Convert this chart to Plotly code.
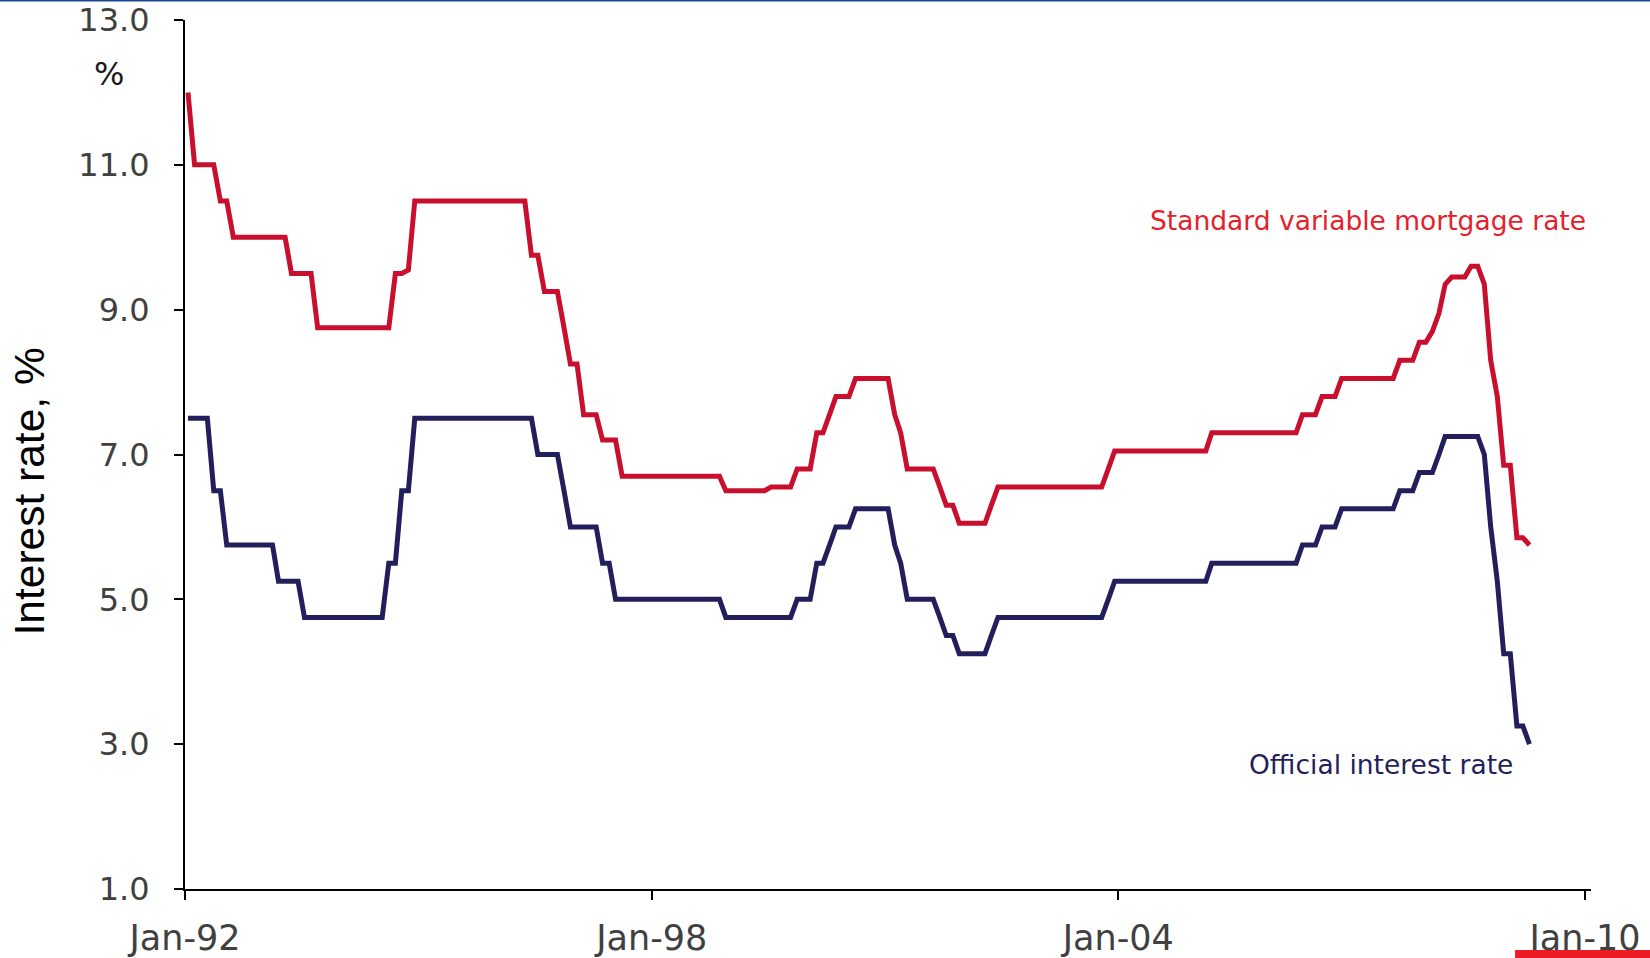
import plotly.graph_objects as go

years = list(range(1992, 2010))
months_in_last_year = 4

mortgage_rate = [
    # 1992
    12.0, 11.0, 11.0, 11.0, 11.0, 10.5, 10.5, 10.0, 10.0, 10.0, 10.0, 10.0,
    # 1993
    10.0, 10.0, 10.0, 10.0, 9.5, 9.5, 9.5, 9.5, 8.75, 8.75, 8.75, 8.75,
    # 1994
    8.75, 8.75, 8.75, 8.75, 8.75, 8.75, 8.75, 8.75, 9.5, 9.5, 9.55, 10.5,
    # 1995
    10.5, 10.5, 10.5, 10.5, 10.5, 10.5, 10.5, 10.5, 10.5, 10.5, 10.5, 10.5,
    # 1996
    10.5, 10.5, 10.5, 10.5, 10.5, 9.75, 9.75, 9.25, 9.25, 9.25, 8.75, 8.25,
    # 1997
    8.25, 7.55, 7.55, 7.55, 7.2, 7.2, 7.2, 6.7, 6.7, 6.7, 6.7, 6.7,
    # 1998
    6.7, 6.7, 6.7, 6.7, 6.7, 6.7, 6.7, 6.7, 6.7, 6.7, 6.7, 6.5,
    # 1999
    6.5, 6.5, 6.5, 6.5, 6.5, 6.5, 6.55, 6.55, 6.55, 6.55, 6.8, 6.8,
    # 2000
    6.8, 7.3, 7.3, 7.55, 7.8, 7.8, 7.8, 8.05, 8.05, 8.05, 8.05, 8.05,
    # 2001
    8.05, 7.55, 7.3, 6.8, 6.8, 6.8, 6.8, 6.8, 6.55, 6.3, 6.3, 6.05,
    # 2002
    6.05, 6.05, 6.05, 6.05, 6.3, 6.55, 6.55, 6.55, 6.55, 6.55, 6.55, 6.55,
    # 2003
    6.55, 6.55, 6.55, 6.55, 6.55, 6.55, 6.55, 6.55, 6.55, 6.55, 6.8, 7.05,
    # 2004
    7.05, 7.05, 7.05, 7.05, 7.05, 7.05, 7.05, 7.05, 7.05, 7.05, 7.05, 7.05,
    # 2005
    7.05, 7.05, 7.3, 7.3, 7.3, 7.3, 7.3, 7.3, 7.3, 7.3, 7.3, 7.3,
    # 2006
    7.3, 7.3, 7.3, 7.3, 7.55, 7.55, 7.55, 7.8, 7.8, 7.8, 8.05, 8.05,
    # 2007
    8.05, 8.05, 8.05, 8.05, 8.05, 8.05, 8.05, 8.3, 8.3, 8.3, 8.55, 8.55,
    # 2008
    8.7, 8.95, 9.35, 9.45, 9.45, 9.45, 9.6, 9.6, 9.35, 8.3, 7.8, 6.85,
    # 2009
    6.85, 5.85, 5.85, 5.75,
]

official_rate = [
    # 1992
    7.5, 7.5, 7.5, 7.5, 6.5, 6.5, 5.75, 5.75, 5.75, 5.75, 5.75, 5.75,
    # 1993
    5.75, 5.75, 5.25, 5.25, 5.25, 5.25, 4.75, 4.75, 4.75, 4.75, 4.75, 4.75,
    # 1994
    4.75, 4.75, 4.75, 4.75, 4.75, 4.75, 4.75, 5.5, 5.5, 6.5, 6.5, 7.5,
    # 1995
    7.5, 7.5, 7.5, 7.5, 7.5, 7.5, 7.5, 7.5, 7.5, 7.5, 7.5, 7.5,
    # 1996
    7.5, 7.5, 7.5, 7.5, 7.5, 7.5, 7.0, 7.0, 7.0, 7.0, 6.5, 6.0,
    # 1997
    6.0, 6.0, 6.0, 6.0, 5.5, 5.5, 5.0, 5.0, 5.0, 5.0, 5.0, 5.0,
    # 1998
    5.0, 5.0, 5.0, 5.0, 5.0, 5.0, 5.0, 5.0, 5.0, 5.0, 5.0, 4.75,
    # 1999
    4.75, 4.75, 4.75, 4.75, 4.75, 4.75, 4.75, 4.75, 4.75, 4.75, 5.0, 5.0,
    # 2000
    5.0, 5.5, 5.5, 5.75, 6.0, 6.0, 6.0, 6.25, 6.25, 6.25, 6.25, 6.25,
    # 2001
    6.25, 5.75, 5.5, 5.0, 5.0, 5.0, 5.0, 5.0, 4.75, 4.5, 4.5, 4.25,
    # 2002
    4.25, 4.25, 4.25, 4.25, 4.5, 4.75, 4.75, 4.75, 4.75, 4.75, 4.75, 4.75,
    # 2003
    4.75, 4.75, 4.75, 4.75, 4.75, 4.75, 4.75, 4.75, 4.75, 4.75, 5.0, 5.25,
    # 2004
    5.25, 5.25, 5.25, 5.25, 5.25, 5.25, 5.25, 5.25, 5.25, 5.25, 5.25, 5.25,
    # 2005
    5.25, 5.25, 5.5, 5.5, 5.5, 5.5, 5.5, 5.5, 5.5, 5.5, 5.5, 5.5,
    # 2006
    5.5, 5.5, 5.5, 5.5, 5.75, 5.75, 5.75, 6.0, 6.0, 6.0, 6.25, 6.25,
    # 2007
    6.25, 6.25, 6.25, 6.25, 6.25, 6.25, 6.25, 6.5, 6.5, 6.5, 6.75, 6.75,
    # 2008
    6.75, 7.0, 7.25, 7.25, 7.25, 7.25, 7.25, 7.25, 7.0, 6.0, 5.25, 4.25,
    # 2009
    4.25, 3.25, 3.25, 3.0,
]

tick_dates = ["1992-01-01", "1998-01-01", "2004-01-01", "2010-01-01"]
tick_labels = ["Jan-92", "Jan-98", "Jan-04", "Jan-10"]
y_ticks = [1, 3, 5, 7, 9, 11, 13]

# Month categories (mid-month dates)
dates = []
for y in years:
    n = 12 if y < years[-1] else months_in_last_year
    for m in range(1, n + 1):
        dates.append(f"{y}-{m:02d}-15")

RED = "#C8102E"
NAVY = "#231F5C"

fig = go.Figure()
fig.add_trace(go.Scatter(x=dates, y=mortgage_rate, mode="lines",
                         line=dict(color=RED, width=5),
                         name="Standard variable mortgage rate"))
fig.add_trace(go.Scatter(x=dates, y=official_rate, mode="lines",
                         line=dict(color=NAVY, width=5),
                         name="Official interest rate"))

fig.update_layout(
    width=1650, height=958, autosize=False,
    margin=dict(l=185, r=59, t=20, b=69, pad=0),
    paper_bgcolor="white", plot_bgcolor="white",
    showlegend=False,
    font=dict(family="DejaVu Sans", color="#404040"),
)

fig.update_xaxes(
    type="date", range=["1992-01-01", "2010-01-29"],
    tickvals=tick_dates, ticktext=tick_labels,
    showline=True, linecolor="black", linewidth=2,
    ticks="outside", ticklen=9, tickwidth=1.5, tickcolor="black",
    tickfont=dict(family="DejaVu Sans", size=35, color="#404040"),
    ticklabelstandoff=8, automargin=False,
    showgrid=False, zeroline=False,
)
fig.update_yaxes(
    range=[1, 13], tickvals=y_ticks, tickformat=".1f",
    showline=True, linecolor="black", linewidth=2,
    ticks="outside", ticklen=9, tickwidth=2, tickcolor="black",
    tickfont=dict(family="DejaVu Sans", size=32, color="#404040"),
    ticklabelstandoff=18, automargin=False,
    showgrid=False, zeroline=False,
)

annotations = [
    dict(text="Standard variable mortgage rate", xref="paper", yref="paper",
         x=0.685, y=0.7687, xanchor="left", yanchor="middle", showarrow=False,
         font=dict(family="DejaVu Sans", size=26.5, color="#E3222B")),
    dict(text="Official interest rate", xref="paper", yref="paper",
         x=0.7553, y=0.1427, xanchor="left", yanchor="middle", showarrow=False,
         font=dict(family="DejaVu Sans", size=26.5, color=NAVY)),
    dict(text="%", xref="paper", yref="paper",
         x=-0.054, y=0.9384, xanchor="center", yanchor="middle", showarrow=False,
         font=dict(family="DejaVu Sans", size=32, color="#1a1a1a")),
    dict(text="Interest rate, %", xref="paper", yref="paper",
         x=-0.1105, y=0.457, xanchor="center", yanchor="middle", showarrow=False,
         textangle=-90,
         font=dict(family="Liberation Sans", size=42.5, color="black")),
]
fig.update_layout(annotations=annotations)

shapes = [
    dict(type="line", xref="paper", yref="paper", x0=-0.1316, x1=1.042,
         y0=1.0224, y1=1.0224, line=dict(color="#1a4590", width=2), layer="above"),
    dict(type="rect", xref="paper", yref="paper", x0=0.946, x1=1.042,
         y0=-0.0794, y1=-0.0702, fillcolor="#ED1C24", line=dict(width=0),
         layer="above"),
]
fig.update_layout(shapes=shapes)

fig.write_html("out.html")
